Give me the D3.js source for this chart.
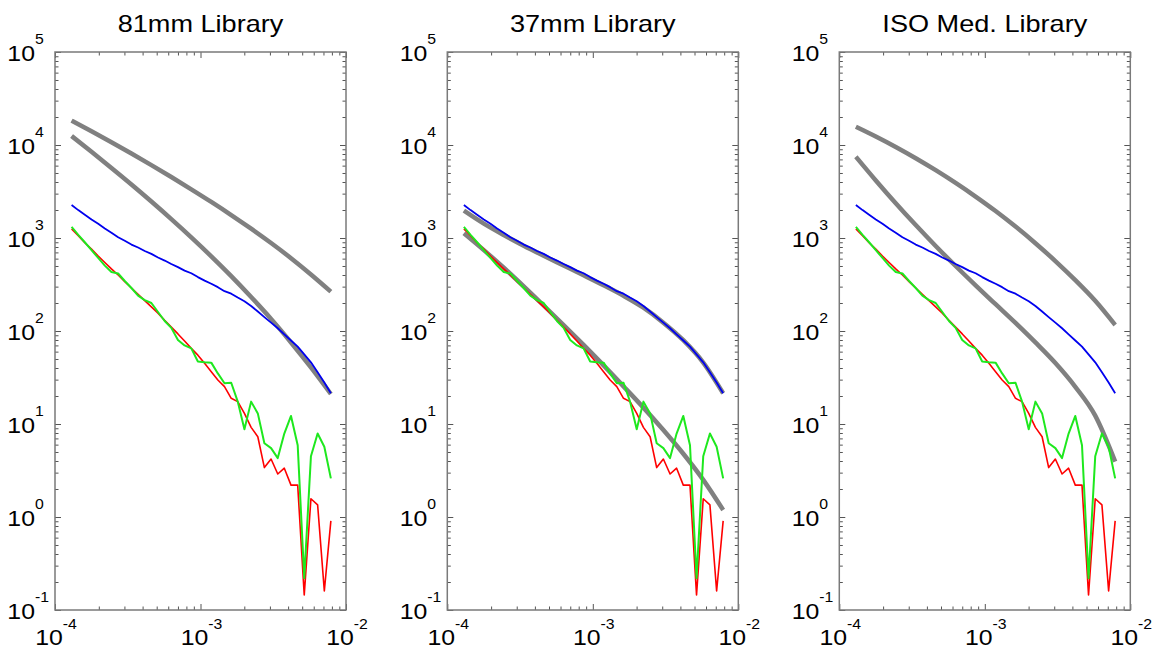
<!DOCTYPE html>
<html>
<head>
<meta charset="utf-8">
<script src="https://cdn.jsdelivr.net/npm/d3@7"></script>
<style>
  body { margin: 0; background: #fff; }
  text { font-family: "Liberation Sans", Arial, sans-serif; fill: #000; }
</style>
</head>
<body>
<svg width="1158" height="649"></svg>
<script>
// frequency bins (shared by the noisy series)
const freq = [1.30e-4, 1.445e-4, 1.603e-4, 1.782e-4, 1.981e-4, 2.200e-4, 2.443e-4, 2.716e-4, 3.017e-4, 3.352e-4,
  3.724e-4, 4.138e-4, 4.596e-4, 5.105e-4, 5.672e-4, 6.300e-4, 6.998e-4, 7.775e-4, 8.643e-4, 9.594e-4,
  1.067e-3, 1.186e-3, 1.316e-3, 1.462e-3, 1.626e-3, 1.803e-3, 2.004e-3, 2.228e-3, 2.477e-3, 2.748e-3,
  3.055e-3, 3.396e-3, 3.767e-3, 4.188e-3, 4.656e-3, 5.164e-3, 5.741e-3, 6.383e-3, 7.096e-3, 7.870e-3];

// coarser bins for the smooth model curves
const freqModel = [1.30e-4, 1.782e-4, 2.443e-4, 3.352e-4, 4.596e-4, 6.300e-4, 8.643e-4,
  1.186e-3, 1.626e-3, 2.228e-3, 3.055e-3, 4.188e-3, 5.741e-3, 7.870e-3];

const blueSeries = [2265, 1995, 1780, 1585, 1420, 1265, 1140, 1020, 935, 850, 790, 725, 675, 617, 572, 525, 486, 446, 418, 380,
  348, 322, 296, 268, 252, 229, 209, 186, 162, 141, 123, 107, 92, 79, 68, 56, 46, 36, 28, 21.4];
const redSeries = [1250, 1060, 890, 760, 640, 545, 465, 400, 340, 290, 248, 212, 182, 155, 130, 110, 93, 78, 65, 55,
  45, 36.5, 29.7, 25.2, 18.9, 17.4, 13, 9.2, 7.3, 3.4, 4.2, 2.9, 3.35, 2.2, 2.2, 0.145, 1.57, 1.35, 0.16, 0.91];
const greenSeries = [1320, 1080, 900, 740, 610, 505, 430, 415, 345, 290, 240, 215, 200, 160, 128, 108, 80, 70, 65, 47,
  46, 45.7, 35, 27.4, 27.8, 17.4, 8.8, 17.4, 13, 6.2, 5.5, 4.3, 7.9, 12.2, 5.9, 0.22, 4.5, 7.9, 5.7, 2.6];

// model curves, one pair per library
const model81Upper = [18280, 14030, 10690, 8090, 6080, 4530, 3340, 2443, 1766, 1259, 883, 607, 406, 265];
const model81Lower = [12500, 8450, 5660, 3760, 2466, 1596, 1016, 635, 389, 232, 135, 75.3, 40.6, 21];
const model37Upper = [1968, 1426, 1076, 826, 644, 506, 397, 310, 239, 178, 123, 79.6, 45.8, 21.4];
const model37Lower = [1122, 741, 479, 302, 188, 116, 70.8, 42.7, 25.4, 15.0, 8.61, 4.79, 2.51, 1.19];
const modelIsoUpper = [15740, 12360, 9530, 7210, 5360, 3910, 2790, 1950, 1327, 879, 565, 352, 211, 116];
const modelIsoLower = [7480, 4160, 2366, 1377, 820, 500, 310, 194, 122, 75.3, 45.2, 25.1, 12.3, 3.94];

const titles = ["81mm Library", "37mm Library", "ISO Med. Library"];
const xTickExp = [-4, -3, -2];
const yTickExp = [-1, 0, 1, 2, 3, 4, 5];

const panels = [
  { title: titles[0], models: [model81Upper, model81Lower] },
  { title: titles[1], models: [model37Upper, model37Lower] },
  { title: titles[2], models: [modelIsoUpper, modelIsoLower] }
];

const panelLeft = [55, 447.3, 839.3];
const plotTop = 52, width = 291, height = 558;
const stretch = 1.13; // glyphs in the original are a bit wide

const svg = d3.select("svg");

const x = d3.scaleLog().domain([1e-4, 1e-2]).range([0, width]);
const y = d3.scaleLog().domain([1e-1, 1e5]).range([height, 0]);

const line = d3.line()
  .x(d => x(d[0]))
  .y(d => y(d[1]));

// model curves are smooth, so let a monotone curve run through their points
const smoothLine = d3.line()
  .curve(d3.curveMonotoneX)
  .x(d => x(d[0]))
  .y(d => y(d[1]));

const isMajor = v => Math.abs(Math.log10(v) - Math.round(Math.log10(v))) < 1e-6;
const minorX = x.ticks().filter(v => !isMajor(v));
const minorY = y.ticks().filter(v => !isMajor(v));
const majorX = xTickExp.map(e => Math.pow(10, e));
const majorY = yTickExp.map(e => Math.pow(10, e));

panels.forEach((p, k) => {
  const g = svg.append("g")
    .attr("transform", `translate(${panelLeft[k]},${plotTop})`);

  // ticks on all four sides, pointing inwards
  const tickSets = [
    [d3.axisBottom(x), `translate(0,${height})`, majorX, minorX],
    [d3.axisTop(x), null, majorX, minorX],
    [d3.axisLeft(y), null, majorY, minorY],
    [d3.axisRight(y), `translate(${width},0)`, majorY, minorY]
  ];
  tickSets.forEach(([axis, tr, major, minor]) => {
    [[major, 6], [minor, 3.5]].forEach(([vals, len]) => {
      const a = g.append("g")
        .call(axis.tickValues(vals).tickSize(-len).tickFormat(""));
      if (tr) a.attr("transform", tr);
      a.select(".domain").remove();
      a.selectAll(".tick line").attr("stroke", "#555").attr("stroke-width", 1);
    });
  });

  // model curves (thick gray) underneath
  p.models.forEach(m => {
    g.append("path")
      .datum(d3.zip(freqModel, m))
      .attr("fill", "none")
      .attr("stroke", "#808080")
      .attr("stroke-width", 4.5)
      .attr("stroke-linejoin", "round")
      .attr("d", smoothLine);
  });

  [[blueSeries, "#0000ee", 1.8], [redSeries, "#ff0000", 1.6], [greenSeries, "#1ee81e", 2]].forEach(([s, c, w]) => {
    g.append("path")
      .datum(d3.zip(freq, s))
      .attr("fill", "none")
      .attr("stroke", c)
      .attr("stroke-width", w)
      .attr("stroke-linejoin", "round")
      .attr("d", line);
  });

  // frame
  g.append("rect")
    .attr("width", width)
    .attr("height", height)
    .attr("fill", "none")
    .attr("stroke", "#7a7a7a")
    .attr("stroke-width", 1.5);

  // title
  svg.append("text")
    .attr("transform", `translate(${panelLeft[k] + width / 2},32) scale(${stretch},1)`)
    .attr("text-anchor", "middle")
    .attr("font-size", 24)
    .text(p.title);

  // y tick labels
  yTickExp.forEach((e, i) => {
    const lg = svg.append("g")
      .attr("transform", `translate(${panelLeft[k] - 20},${plotTop + y(majorY[i])}) scale(${stretch},1)`);
    lg.append("text")
      .attr("text-anchor", "end")
      .attr("y", 9)
      .attr("font-size", 22)
      .text("10");
    lg.append("text")
      .attr("y", -8)
      .attr("font-size", 14)
      .text(e < 0 ? "-" + Math.abs(e) : e);
  });

  // x tick labels
  xTickExp.forEach((e, i) => {
    const t = svg.append("text")
      .attr("transform", `translate(${panelLeft[k] + x(majorX[i]) + 1},645) scale(${stretch},1)`)
      .attr("text-anchor", "middle")
      .attr("font-size", 22)
      .text("10");
    t.append("tspan")
      .attr("dy", -16)
      .attr("font-size", 14)
      .text("-" + Math.abs(e));
  });
});
</script>
</body>
</html>
